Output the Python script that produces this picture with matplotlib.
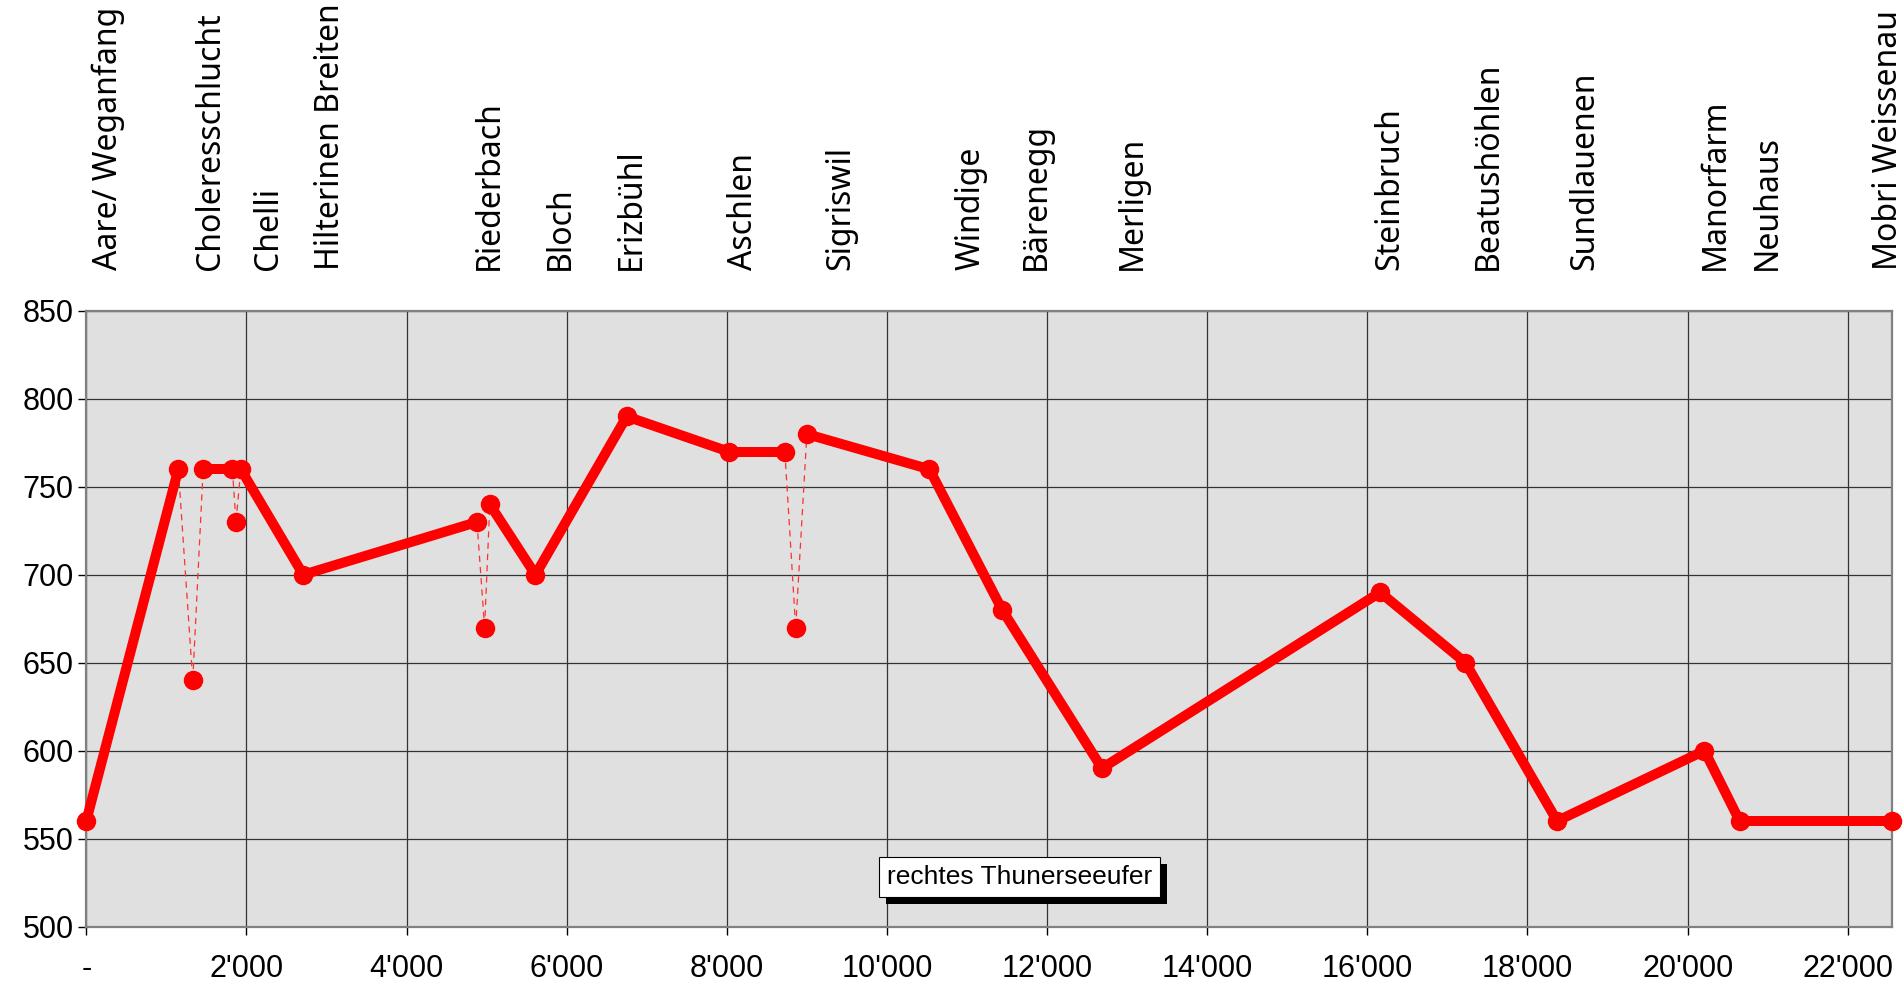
import matplotlib
matplotlib.use("Agg")
import matplotlib.pyplot as plt
import matplotlib.patheffects as pe
from matplotlib.ticker import FuncFormatter, MultipleLocator
from matplotlib.transforms import blended_transform_factory

# ----------------------------------------
# Data: distance along the path (m) and elevation (m a.s.l.)
# ----------------------------------------
dist_m = [0, 1150, 1330, 1460, 1825, 1870, 1930, 2710, 4880, 4975, 5040, 5610,
          6750, 8025, 8725, 8860, 9000, 10530, 11440, 12685, 16160, 17225,
          18370, 20210, 20650, 22550]
elev_m = [560, 760, 640, 760, 760, 730, 760, 700, 730, 670, 740, 700,
          790, 770, 770, 670, 780, 760, 680, 590, 690, 650,
          560, 600, 560, 560]
# points reached only by a side trip (segments to them are dashed)
dip_points = [2, 5, 9, 15]

place_names = ["Aare/ Weganfang", "Choleresschlucht", "Chelli", "Hilterinen Breiten",
               "Riederbach", "Bloch", "Erizbühl", "Aschlen", "Sigriswil", "Windige",
               "Bärenegg", "Merligen", "Steinbruch", "Beatushöhlen", "Sundlauenen",
               "Manorfarm", "Neuhaus", "Mobri Weissenau"]
place_x = [273, 1548, 2276, 3050, 5038, 5918, 6813, 8209, 9423, 11047,
           11866, 13065, 16282, 17511, 18710, 20349, 21002, 22504]

note_text = "rechtes Thunerseeufer"

# ----------------------------------------
# Figure
# ----------------------------------------
fig = plt.figure(figsize=(19.04, 9.84), dpi=100)
ax = fig.add_axes([0.0453, 0.0584, 0.9483, 0.6256])
ax.set_facecolor("#e0e0e0")

# path segments
for i in range(len(dist_m) - 1):
    xs = dist_m[i:i + 2]
    ys = elev_m[i:i + 2]
    if i in dip_points or (i + 1) in dip_points:
        ax.plot(xs, ys, color="#ff3030", lw=0.9, dashes=(5, 4), zorder=3,
                clip_on=False)
    else:
        ax.plot(xs, ys, color="#ff0000", lw=7.2, solid_capstyle="round",
                zorder=4, clip_on=False)

ax.plot(dist_m, elev_m, "o", color="#ff0000", markersize=13, zorder=5,
        clip_on=False)

# axes
ax.set_xlim(0, dist_m[-1])
ax.set_ylim(500, 850)
ax.xaxis.set_major_locator(MultipleLocator(2000))
ax.yaxis.set_major_locator(MultipleLocator(50))
ax.xaxis.set_major_formatter(FuncFormatter(
    lambda v, p: "-" if v == 0 else f"{int(v):,}".replace(",", "'")))
ax.grid(True, color="#333333", lw=0.9, zorder=1)
ax.set_axisbelow(True)

for s in ax.spines.values():
    s.set_color("#808080")
    s.set_linewidth(1.6)

ax.tick_params(axis="both", direction="out", length=6, width=1, color="black",
               labelsize=22)
ax.tick_params(axis="x", pad=14)
ax.tick_params(axis="y", pad=3)
for lab in ax.get_xticklabels() + ax.get_yticklabels():
    lab.set_family("Liberation Sans")

# place names above the plot
trans = blended_transform_factory(ax.transData, ax.transAxes)
for name, x in zip(place_names, place_x):
    ax.text(x, 1.066, name, transform=trans, rotation=90, ha="center",
            va="bottom", fontsize=23, family="Noto Sans", clip_on=False)

# note box with shadow
t = ax.text(11655, 528, note_text, ha="center", va="center", fontsize=19,
            family="Liberation Sans", zorder=6,
            bbox=dict(boxstyle="square,pad=0.3", fc="white", ec="black", lw=0.8))
t.get_bbox_patch().set_path_effects([
    pe.SimplePatchShadow(offset=(5, -5), shadow_rgbFace="black", alpha=1),
    pe.Normal()])

fig.savefig("out.png", dpi=100)
